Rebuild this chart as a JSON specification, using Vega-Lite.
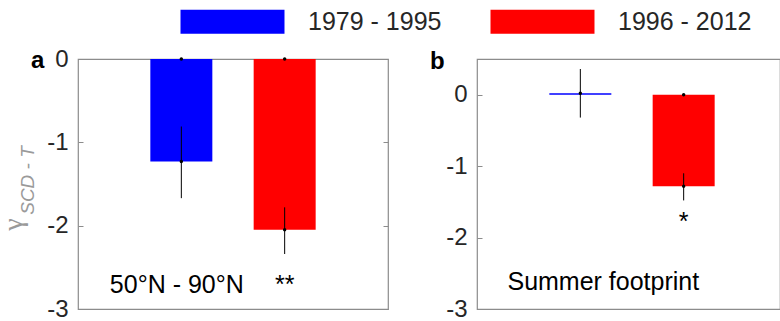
{
  "$schema": "https://vega.github.io/schema/vega-lite/v6.json",
  "padding": {"left": -2, "top": 9, "right": 0, "bottom": 0},
  "background": "white",
  "config": {
    "font": "Liberation Sans",
    "view": {"stroke": "#8c8c8c", "strokeWidth": 1.2},
    "axis": {
      "domain": false, "grid": false,
      "labelFontSize": 24, "labelColor": "#262626", "labelExpr": "datum.value",
      "tickColor": "#8c8c8c", "tickSize": -5, "labelPadding": 15,
      "titleColor": "#9a9a9a", "titleFontWeight": "normal"
    }
  },
  "datasets": {
    "bars": [
      {"panel": "a", "period": "1979 - 1995", "value": -1.23, "lo": -1.67, "hi": -0.81, "sig": ""},
      {"panel": "a", "period": "1996 - 2012", "value": -2.05, "lo": -2.34, "hi": -1.78, "sig": "**"},
      {"panel": "b", "period": "1979 - 1995", "value": 0.02, "lo": -0.32, "hi": 0.36, "sig": ""},
      {"panel": "b", "period": "1996 - 2012", "value": -1.28, "lo": -1.48, "hi": -1.10, "sig": "*"}
    ]
  },
  "data": {"name": "bars"},
  "spacing": 89,
  "bounds": "flush",
  "hconcat": [
    {
      "width": 310, "height": 250,
      "title": {"text": "a", "anchor": "start", "frame": "group", "fontSize": 24, "fontWeight": "bold", "color": "#000", "baseline": "alphabetic", "offset": 0, "dx": -47, "dy": 45},
      "transform": [{"filter": "datum.panel == 'a'"}],
      "encoding": {
        "x": {"field": "period", "type": "nominal", "scale": {"paddingInner": 0.4, "paddingOuter": 0.7}, "axis": null}
      },
      "layer": [
        {
          "mark": {"type": "bar"},
          "encoding": {
            "y": {"field": "value", "type": "quantitative", "scale": {"domain": [-3, 0], "nice": false},
                  "axis": {"orient": "left", "values": [0, -1, -2, -3], "title": "γ", "titleFont": "Liberation Serif", "titleFontSize": 28, "titleAngle": -90, "titleBaseline": "alphabetic", "titleX": -57, "titleY": 165, "titleAlign": "center"}},
            "color": {"field": "period", "type": "nominal",
                      "scale": {"domain": ["1979 - 1995", "1996 - 2012"], "range": ["#0000ff", "#ff0000"]},
                      "legend": {"orient": "none", "direction": "horizontal", "legendX": 142, "legendY": -50, "title": null,
                                 "symbolType": "M-4.333,-1H4.333V1H-4.333Z", "symbolSize": 576, "symbolStrokeWidth": 0, "symbolOpacity": 1,
                                 "labelFontSize": 25, "labelColor": "#262626", "labelOffset": 63, "columnPadding": 48}}
          }
        },
        {
          "mark": {"type": "rule", "color": "black", "strokeWidth": 1},
          "encoding": {
            "y": {"field": "lo", "type": "quantitative",
                  "axis": {"orient": "left", "values": [0, -1, -2, -3], "labels": false, "ticks": false, "title": "SCD - T", "titleFontSize": 19, "titleFontStyle": "italic", "titleAngle": -90, "titleBaseline": "alphabetic", "titleX": -45, "titleY": 121, "titleAlign": "center"}},
            "y2": {"field": "hi"}
          }
        },
        {
          "mark": {"type": "point", "filled": true, "color": "black", "size": 12, "opacity": 1},
          "encoding": {"y": {"field": "value", "type": "quantitative", "axis": null}}
        },
        {
          "mark": {"type": "point", "filled": true, "color": "black", "size": 12, "opacity": 1},
          "encoding": {"y": {"datum": 0, "type": "quantitative", "axis": {"orient": "right", "values": [0, -1, -2, -3], "labels": false, "title": null}}}
        },
        {
          "transform": [{"filter": "datum.sig != ''"}],
          "mark": {"type": "text", "fontSize": 25, "baseline": "alphabetic", "dy": 39, "color": "#000"},
          "encoding": {"y": {"field": "lo", "type": "quantitative", "axis": null}, "text": {"field": "sig"}}
        },
        {
          "data": {"values": [{"label": "50°N - 90°N"}]},
          "mark": {"type": "text", "fontSize": 25, "baseline": "alphabetic", "align": "center", "dx": -4.5, "color": "#000"},
          "encoding": {"x": {"datum": "1979 - 1995"}, "y": {"datum": -2.81, "type": "quantitative", "axis": null}, "text": {"field": "label"}}
        }
      ],
      "resolve": {"axis": {"y": "independent"}}
    },
    {
      "width": 303, "height": 250,
      "title": {"text": "b", "anchor": "start", "frame": "group", "fontSize": 24, "fontWeight": "bold", "color": "#000", "baseline": "alphabetic", "offset": 0, "dx": -47, "dy": 34},
      "transform": [{"filter": "datum.panel == 'b'"}],
      "encoding": {
        "x": {"field": "period", "type": "nominal", "scale": {"paddingInner": 0.4, "paddingOuter": 0.7, "range": [0, 310]}, "axis": null}
      },
      "layer": [
        {
          "mark": {"type": "rule", "color": "#8c8c8c", "strokeWidth": 1.2},
          "encoding": {"y": {"datum": 0, "type": "quantitative", "scale": {"domain": [-3, 0.5], "nice": false},
                             "axis": {"values": [0, -1, -2, -3], "title": null}}}
        },
        {
          "mark": {"type": "bar"},
          "encoding": {
            "y": {"field": "value", "type": "quantitative"},
            "color": {"field": "period", "type": "nominal"}
          }
        },
        {
          "mark": {"type": "rule", "color": "black", "strokeWidth": 1},
          "encoding": {"y": {"field": "lo", "type": "quantitative"}, "y2": {"field": "hi"}}
        },
        {
          "mark": {"type": "point", "filled": true, "color": "black", "size": 12, "opacity": 1},
          "encoding": {"y": {"field": "value", "type": "quantitative"}}
        },
        {
          "transform": [{"filter": "datum.sig != ''"}],
          "mark": {"type": "point", "filled": true, "color": "black", "size": 12, "opacity": 1},
          "encoding": {"y": {"datum": 0, "type": "quantitative"}}
        },
        {
          "transform": [{"filter": "datum.sig != ''"}],
          "mark": {"type": "text", "fontSize": 25, "baseline": "alphabetic", "dy": 30, "color": "#000"},
          "encoding": {"y": {"field": "lo", "type": "quantitative"}, "text": {"field": "sig"}}
        },
        {
          "data": {"values": [{"label": "Summer footprint"}]},
          "mark": {"type": "text", "fontSize": 25, "baseline": "alphabetic", "align": "center", "dx": 23, "color": "#000"},
          "encoding": {"x": {"datum": "1979 - 1995"}, "y": {"datum": -2.74, "type": "quantitative"}, "text": {"field": "label"}}
        }
      ]
    }
  ]
}
